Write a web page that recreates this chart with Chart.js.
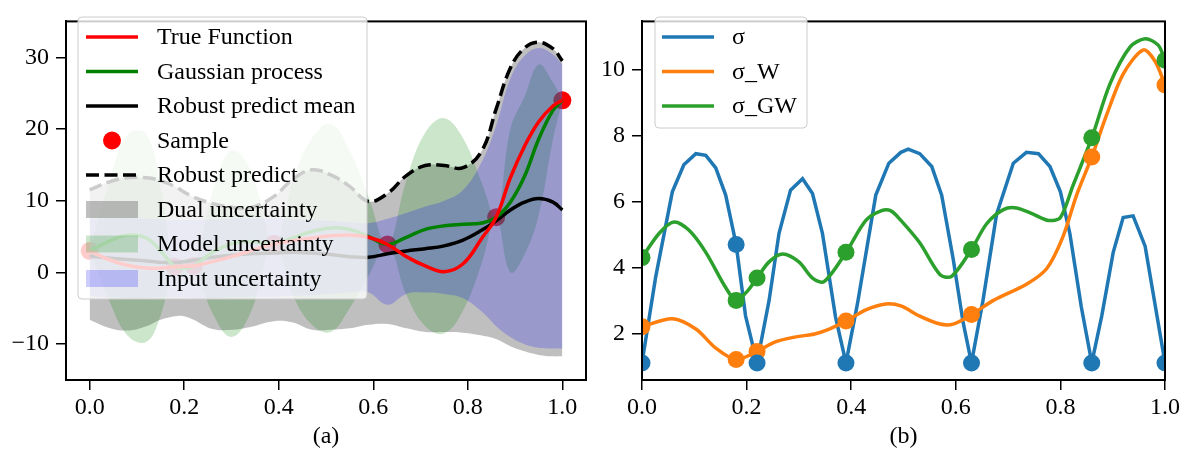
<!DOCTYPE html>
<html lang="en">
<head>
<meta charset="UTF-8">
<title>Robust prediction / sigma</title>
<script src="https://cdn.jsdelivr.net/npm/chart.js"></script>
<style>
  body { margin: 0; background: #fff; }
  #wrapA { position: absolute; left: 0; top: 0; width: 595px; height: 459px; }
  #wrapB { position: absolute; left: 595px; top: 0; width: 592px; height: 459px; }
</style>
</head>
<body>
<div id="wrapA"><canvas id="chartA" width="595" height="459"></canvas></div>
<div id="wrapB"><canvas id="chartB" width="592" height="459"></canvas></div>

<script>
// ---------- panel (a) data ----------
const xA = [0, 0.04, 0.08, 0.12, 0.15, 0.18, 0.2, 0.22, 0.26, 0.3, 0.34, 0.39, 0.43, 0.47, 0.51, 0.55, 0.59,
            0.63, 0.67, 0.71, 0.75, 0.79, 0.83, 0.86, 0.89, 0.92, 0.95, 0.98, 1.0];
const trueFn = [3.0, 1.8, 1.0, 0.6, 0.6, 0.8, 0.85, 0.9, 1.5, 2.2, 3.0, 4.0, 4.4, 4.8, 5.1, 5.2, 4.9,
                3.9, 2.2, 0.9, 0.1, 1.2, 4.8, 7.7, 13.2, 17.6, 21.0, 23.2, 24.0];
const gpMean = [3.0, 4.3, 5.2, 4.8, 3.0, 0.8, 0.6, 0.9, 2.8, 4.0, 4.3, 4.0, 4.8, 5.7, 6.2, 6.0, 5.0,
                3.9, 4.9, 6.0, 6.5, 6.7, 6.9, 7.7, 9.8, 13.4, 18.6, 22.6, 24.0];
const robustMean = [2.3, 2.0, 1.8, 1.6, 1.4, 1.4, 1.5, 1.7, 2.1, 2.4, 2.6, 2.7, 2.8, 2.7, 2.5, 2.2, 2.1,
                    2.6, 3.0, 3.3, 3.7, 4.5, 5.9, 7.2, 8.7, 9.8, 10.3, 9.8, 8.7];
const robustPred = [11.5, 12.6, 13.2, 13.2, 12.8, 12.0, 11.2, 10.5, 9.6, 9.1, 9.0, 10.6, 13.0, 14.3, 13.6, 12.0, 9.9,
                    11.0, 13.5, 14.9, 14.9, 14.6, 17.0, 22.8, 28.5, 31.3, 32.1, 31.2, 29.5];
const dualLow = [-6.6, -7.7, -8.1, -7.5, -6.6, -6.1, -6.1, -6.6, -7.9, -8.0, -7.6, -6.8, -7.0, -8.0, -8.0, -7.8, -7.3,
                 -7.2, -7.8, -8.3, -8.3, -8.4, -8.8, -9.3, -10.3, -11.0, -11.5, -11.7, -11.7];
const modelUp = [3.0, 12.3, 19.2, 19.3, 12.0, 0.8, 1.8, 0.9, 11.3, 17.0, 14.3, 4.0, 12.8, 18.7, 20.7, 17.0, 10.5,
                 3.9, 12.9, 19.5, 21.5, 18.7, 12.4, 7.7, 20.0, 24.5, 29.0, 26.5, 24.0];
const modelLow = [3.0, -3.7, -8.8, -9.7, -6.0, 0.8, -0.6, 0.9, -5.7, -9.0, -5.7, 4.0, -3.2, -7.3, -8.3, -5.0, -0.5,
                  3.9, -3.1, -7.5, -8.5, -5.3, 1.4, 7.7, 0.0, 2.5, 8.0, 18.5, 24.0];
const inputUp = [7.5, 7.6, 7.6, 7.5, 7.4, 7.3, 7.3, 7.3, 7.4, 7.5, 7.5, 7.5, 7.4, 7.3, 7.2, 7.0, 6.9,
                 7.5, 8.3, 9.2, 10.0, 11.5, 15.5, 20.5, 27.0, 30.2, 31.3, 30.4, 29.0];
const inputLow = [-3.3, -3.5, -3.6, -3.6, -3.5, -3.5, -3.5, -3.6, -3.6, -3.5, -3.4, -3.4, -3.3, -3.2, -3.0, -2.8, -2.8,
                  -4.5, -3.0, -2.8, -3.0, -3.6, -5.5, -7.5, -9.0, -10.0, -10.5, -10.6, -10.6];
const sampleX = [0, 0.18, 0.22, 0.39, 0.63, 0.86, 1.0];
const sampleY = [3.0, 0.8, 0.9, 4.0, 3.9, 7.7, 24.0];
const labelsA = ['True Function', 'Gaussian process', 'Robust predict mean', 'Sample', 'Robust predict',
                 'Dual uncertainty', 'Model uncertainty', 'Input uncertainty'];
const yTicksA = [-10, 0, 10, 20, 30];

// ---------- panel (b) data ----------
const sigmaX = [0, 0.026, 0.058, 0.08, 0.103, 0.122, 0.141, 0.16, 0.18, 0.198, 0.22, 0.243, 0.262, 0.284, 0.307,
                0.326, 0.345, 0.37, 0.39, 0.412, 0.447, 0.472, 0.495, 0.509, 0.531, 0.554, 0.573, 0.595, 0.614,
                0.63, 0.652, 0.678, 0.71, 0.735, 0.758, 0.78, 0.8, 0.818, 0.84, 0.86, 0.879, 0.901, 0.92, 0.939,
                0.962, 1.0];
const sigma = [1.1, 3.7, 6.3, 7.12, 7.46, 7.41, 7.03, 6.2, 4.7, 2.53, 1.1, 3.0, 5.04, 6.35, 6.7,
               6.25, 5.04, 2.5, 1.1, 2.9, 6.2, 7.17, 7.5, 7.6, 7.46, 7.07, 6.2, 4.26, 2.33,
               1.1, 3.0, 5.62, 7.17, 7.5, 7.46, 7.07, 6.3, 5.04, 2.8, 1.1, 2.52, 4.46, 5.52, 5.57,
               4.65, 1.1];
const sigmaWX = [0, 0.058, 0.103, 0.141, 0.18, 0.22, 0.255, 0.294, 0.33, 0.358, 0.39, 0.428, 0.466, 0.495,
                 0.531, 0.57, 0.595, 0.63, 0.672, 0.735, 0.774, 0.805, 0.831, 0.86, 0.888, 0.92, 0.958, 0.981, 1.0];
const sigmaW = [2.2, 2.44, 2.13, 1.55, 1.2, 1.45, 1.74, 1.89, 1.98, 2.13, 2.37, 2.71, 2.89, 2.83,
                2.52, 2.28, 2.28, 2.57, 3.0, 3.49, 3.97, 4.94, 6.2, 7.36, 8.62, 9.88, 10.61, 10.27, 9.55];
const sigmaGWX = [0, 0.033, 0.061, 0.09, 0.122, 0.16, 0.18, 0.202, 0.22, 0.243, 0.269, 0.3, 0.326, 0.348,
                  0.39, 0.428, 0.457, 0.476, 0.495, 0.531, 0.57, 0.592, 0.63, 0.659, 0.691, 0.716, 0.748,
                  0.777, 0.8, 0.824, 0.86, 0.895, 0.933, 0.962, 0.987, 1.0];
const sigmaGW = [4.3, 5.04, 5.38, 5.13, 4.46, 3.39, 3.0, 3.29, 3.68, 4.17, 4.41, 4.17, 3.68, 3.57,
                 4.46, 5.43, 5.72, 5.72, 5.43, 4.75, 3.78, 3.73, 4.55, 5.33, 5.76, 5.81, 5.62,
                 5.43, 5.52, 6.49, 7.94, 9.59, 10.7, 10.95, 10.76, 10.3];
const sampleSigma = [1.1, 4.7, 1.1, 1.1, 1.1, 1.1, 1.1];
const sampleW = [2.2, 1.2, 1.45, 2.37, 2.57, 7.36, 9.55];
const sampleGW = [4.3, 3.0, 3.68, 4.46, 4.55, 7.94, 10.3];
const labelsB = ['σ', 'σ_W', 'σ_GW'];
const yTicksB = [2, 4, 6, 8, 10];
const xTicks = [0, 0.2, 0.4, 0.6, 0.8, 1.0];

// ---------- helpers ----------
const FONT = { family: "'Liberation Serif', 'Times New Roman', Times, serif", size: 24 };
const FONT_CSS = "24px 'Liberation Serif', 'Times New Roman', Times, serif";
const LW = 3.5;

function pts(xs, ys) { return xs.map((x, i) => ({ x: x, y: ys[i] })); }

const gridOpts = { drawOnChartArea: false, drawTicks: true, tickLength: 10, lineWidth: 1.5, tickColor: '#000', color: '#000' };

function xAxis(min, max, title) {
    return {
        type: 'linear', min: min, max: max,
        afterBuildTicks: s => { s.ticks = xTicks.map(v => ({ value: v })); },
        afterFit: s => { s.height = 79; },
        grid: gridOpts,
        border: { display: true, color: '#000', width: 2 },
        ticks: { color: '#000', font: FONT, padding: 3, maxRotation: 0, autoSkip: false,
                 callback: v => Number(v).toFixed(1) },
        title: { display: true, text: title, color: '#000', font: FONT, padding: { top: 0, bottom: 8 } }
    };
}

function yAxis(min, max, ticks, width) {
    return {
        type: 'linear', min: min, max: max,
        afterBuildTicks: s => { s.ticks = ticks.map(v => ({ value: v })); },
        afterFit: s => { s.width = width; },
        grid: gridOpts,
        border: { display: true, color: '#000', width: 2 },
        ticks: { color: '#000', font: FONT, padding: 7,
                 callback: v => (v < 0 ? '\u2212' + Math.abs(v) : String(v)) }
    };
}

// black box around the plot area
const framePlugin = {
    id: 'frame',
    afterDatasetsDraw(chart) {
        const { ctx, chartArea: a } = chart;
        ctx.save();
        ctx.strokeStyle = '#000';
        ctx.lineWidth = 2;
        ctx.strokeRect(a.left, a.top, a.right - a.left, a.bottom - a.top);
        ctx.restore();
    }
};

// matplotlib-like legend: translucent box drawn above the data
function makeLegend(id, cfg) {
    return {
        id: id,
        afterDatasetsDraw(chart) {
            const ctx = chart.ctx;
            const r = 4;
            ctx.save();
            ctx.beginPath();
            ctx.moveTo(cfg.x + r, cfg.y);
            ctx.arcTo(cfg.x + cfg.w, cfg.y, cfg.x + cfg.w, cfg.y + cfg.h, r);
            ctx.arcTo(cfg.x + cfg.w, cfg.y + cfg.h, cfg.x, cfg.y + cfg.h, r);
            ctx.arcTo(cfg.x, cfg.y + cfg.h, cfg.x, cfg.y, r);
            ctx.arcTo(cfg.x, cfg.y, cfg.x + cfg.w, cfg.y, r);
            ctx.closePath();
            ctx.fillStyle = 'rgba(255,255,255,0.8)';
            ctx.fill();
            ctx.strokeStyle = '#cccccc';
            ctx.lineWidth = 1;
            ctx.stroke();

            cfg.items.forEach((it, i) => {
                const cy = cfg.y + cfg.row0 + i * cfg.rowH;
                if (it.kind === 'line') {
                    ctx.beginPath();
                    ctx.setLineDash(it.dash || []);
                    ctx.strokeStyle = it.color;
                    ctx.lineWidth = LW;
                    ctx.moveTo(cfg.hx0, cy);
                    ctx.lineTo(cfg.hx1, cy);
                    ctx.stroke();
                    ctx.setLineDash([]);
                } else if (it.kind === 'dot') {
                    ctx.beginPath();
                    ctx.fillStyle = it.color;
                    ctx.arc((cfg.hx0 + cfg.hx1) / 2, cy, 9, 0, Math.PI * 2);
                    ctx.fill();
                } else {
                    ctx.fillStyle = it.color;
                    ctx.fillRect(cfg.hx0, cy - 8.5, cfg.hx1 - cfg.hx0, 17);
                }
                ctx.fillStyle = '#000';
                ctx.font = FONT_CSS;
                ctx.textBaseline = 'middle';
                ctx.textAlign = 'left';
                ctx.fillText(it.text, cfg.tx, cy + 1);
            });
            ctx.restore();
        }
    };
}

function lineSet(label, xs, ys, color, extra) {
    return Object.assign({
        label: label, data: pts(xs, ys), borderColor: color, borderWidth: LW,
        pointRadius: 0, fill: false, tension: 0.4
    }, extra || {});
}

function bandEdge(label, xs, ys, fillColor, order, isUpper) {
    return {
        label: label, data: pts(xs, ys), borderWidth: 0, borderColor: 'rgba(0,0,0,0)',
        pointRadius: 0, tension: 0.4, order: order,
        fill: isUpper ? '+1' : false, backgroundColor: fillColor
    };
}

const GRAY = 'rgba(128,128,128,0.5)';
const LGREEN = 'rgba(0,128,0,0.2)';
const LBLUE = 'rgba(0,0,255,0.2)';

// ---------- chart (a) ----------
new Chart(document.getElementById('chartA'), {
    type: 'line',
    data: {
        datasets: [
            lineSet(labelsA[0], xA, trueFn, '#ff0000', { order: 1 }),
            lineSet(labelsA[1], xA, gpMean, '#008000', { order: 1 }),
            lineSet(labelsA[2], xA, robustMean, '#000000', { order: 1 }),
            lineSet(labelsA[4], xA, robustPred, '#000000', { order: 1, borderDash: [13, 5.5] }),
            bandEdge(labelsA[7], xA, inputUp, LBLUE, 2, true),
            bandEdge(labelsA[7], xA, inputLow, LBLUE, 2, false),
            bandEdge(labelsA[6], xA, modelUp, LGREEN, 3, true),
            bandEdge(labelsA[6], xA, modelLow, LGREEN, 3, false),
            bandEdge(labelsA[5], xA, robustPred, GRAY, 4, true),
            bandEdge(labelsA[5], xA, dualLow, GRAY, 4, false),
            { label: labelsA[3], data: pts(sampleX, sampleY), showLine: false, order: 5,
              pointRadius: 9, pointBorderWidth: 0, pointBackgroundColor: '#ff0000', borderColor: '#ff0000' }
        ]
    },
    options: {
        responsive: false, animation: false, devicePixelRatio: 1,
        layout: { padding: { top: 5, right: 6, bottom: 0, left: 0 } },
        plugins: { legend: { display: false }, tooltip: { enabled: false } },
        scales: { x: xAxis(-0.05, 1.05, '(a)'), y: yAxis(-15, 35, yTicksA, 66) }
    },
    plugins: [framePlugin, makeLegend('legendA', {
        x: 78, y: 17, w: 289, h: 282, row0: 20, rowH: 34.5, hx0: 86, hx1: 138, tx: 157,
        items: [
            { kind: 'line', color: '#ff0000', text: labelsA[0] },
            { kind: 'line', color: '#008000', text: labelsA[1] },
            { kind: 'line', color: '#000000', text: labelsA[2] },
            { kind: 'dot', color: '#ff0000', text: labelsA[3] },
            { kind: 'line', color: '#000000', dash: [13, 5.5], text: labelsA[4] },
            { kind: 'patch', color: GRAY, text: labelsA[5] },
            { kind: 'patch', color: LGREEN, text: labelsA[6] },
            { kind: 'patch', color: LBLUE, text: labelsA[7] }
        ]
    })]
});

// ---------- chart (b) ----------
const C_BLUE = '#1f77b4', C_ORANGE = '#ff7f0e', C_GREEN = '#2ca02c';

function dots(label, ys, color, order) {
    return { label: label, data: pts(sampleX, ys), showLine: false, order: order, clip: 0,
             pointRadius: 8.5, pointBorderWidth: 0, pointBackgroundColor: color, borderColor: color };
}

new Chart(document.getElementById('chartB'), {
    type: 'line',
    data: {
        datasets: [
            lineSet(labelsB[0], sigmaX, sigma, C_BLUE, { order: 6, tension: 0, clip: 0 }),
            lineSet(labelsB[1], sigmaWX, sigmaW, C_ORANGE, { order: 5, tension: 0.3, clip: 0 }),
            lineSet(labelsB[2], sigmaGWX, sigmaGW, C_GREEN, { order: 4, tension: 0.3, clip: 0 }),
            dots(labelsB[0], sampleSigma, C_BLUE, 1),
            dots(labelsB[1], sampleW, C_ORANGE, 2),
            dots(labelsB[2], sampleGW, C_GREEN, 3)
        ]
    },
    options: {
        responsive: false, animation: false, devicePixelRatio: 1,
        layout: { padding: { top: 5, right: 22, bottom: 0, left: 0 } },
        plugins: { legend: { display: false }, tooltip: { enabled: false } },
        scales: { x: xAxis(0, 1, '(b)'), y: yAxis(0.58, 11.48, yTicksB, 47) }
    },
    plugins: [framePlugin, makeLegend('legendB', {
        x: 60, y: 17, w: 152, h: 111, row0: 20, rowH: 34.5, hx0: 67, hx1: 119, tx: 137,
        items: [
            { kind: 'line', color: C_BLUE, text: labelsB[0] },
            { kind: 'line', color: C_ORANGE, text: labelsB[1] },
            { kind: 'line', color: C_GREEN, text: labelsB[2] }
        ]
    })]
});
</script>
</body>
</html>
